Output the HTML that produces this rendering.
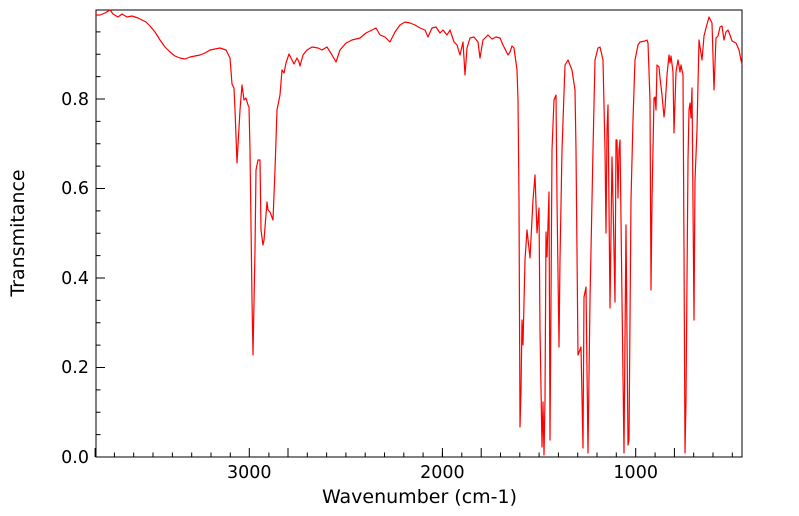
<!DOCTYPE html>
<html><head><meta charset="utf-8"><style>body{margin:0;background:#fff}svg{display:block}text{font-family:"DejaVu Sans","Liberation Sans",sans-serif;fill:#000}</style></head><body>
<svg width="799" height="516" viewBox="0 0 799 516" xmlns="http://www.w3.org/2000/svg">
<rect width="799" height="516" fill="#fff"/>
<g stroke="#000" stroke-width="1">
<path d="M95.1 457V448M288 457V448M481.2 457V448M674.4 457V448" />
<path d="M114.4 457V452.5M133.7 457V452.5M153 457V452.5M172.4 457V452.5M191.7 457V452.5M211 457V452.5M230.3 457V452.5M268.9 457V452.5M307.3 457V452.5M326.6 457V452.5M345.9 457V452.5M365.2 457V452.5M384.5 457V452.5M403.8 457V452.5M423.1 457V452.5M442.4 457V452.5M461.8 457V452.5M500.5 457V452.5M519.8 457V452.5M539.1 457V452.5M558.4 457V452.5M577.7 457V452.5M597 457V452.5M616.3 457V452.5M655.1 457V452.5M693.7 457V452.5M713 457V452.5M732.3 457V452.5"/>
<path d="M249.3 457V448M442.4 457V448M635.7 457V448"/>
<path d="M96 457H105M96 367.5H105M96 278H105M96 188.5H105M96 99H105"/>
<path d="M96 434.6H100.5M96 412.2H100.5M96 389.9H100.5M96 345.1H100.5M96 322.7H100.5M96 300.4H100.5M96 255.6H100.5M96 233.2H100.5M96 210.9H100.5M96 166.1H100.5M96 143.7H100.5M96 121.4H100.5M96 76.6H100.5M96 54.2H100.5M96 31.9H100.5"/>
</g>
<rect x="96" y="10" width="646" height="447" fill="none" stroke="#000" stroke-width="1"/>
<g font-size="17.5" text-anchor="end">
<text x="89" y="463">0.0</text><text x="89" y="373">0.2</text><text x="89" y="284">0.4</text><text x="89" y="194">0.6</text><text x="89" y="105">0.8</text>
</g>
<g font-size="17.5" text-anchor="middle">
<text x="249.3" y="478">3000</text><text x="442.4" y="478">2000</text><text x="635.7" y="478">1000</text>
<text x="419.5" y="503" font-size="19">Wavenumber (cm-1)</text>
<text transform="translate(24,233) rotate(-90)" font-size="19">Transmitance</text>
</g>
<polyline fill="none" stroke="#ff0000" stroke-width="1.2" stroke-linejoin="round" points="96,15 100,15 105,13 110,10 113,14 118,17 122,14 127,17 132,16 138,18 142,20 146,22 150,26 155,32 160,40 165,47 170,52 175,56 180,58 185,59 190,57 195,56 200,55 205,53 210,50 215,49 220,48 226,50 230,58 232,84 234,88 235,110 237,163 240,110 242,85 244,100 246,98 248,105 249,107 250,150 252,300 253,355 255,250 256,170 258,160 260,160 261,230 263,245 264,240 267,202 268,210 270,212 273,220 275,170 277,110 280,95 282,70 284,73 286,63 289,54 292,60 294,64 297,58 299,62 300,66 303,55 307,50 312,47 318,48 322,50 327,47 332,55 336,62 340,50 346,43 352,40 360,38 366,33 372,30 376,28 380,35 385,37 390,42 395,32 400,25 405,22 410,23 415,25 420,28 425,30 428,37 432,28 436,27 440,33 443,30 447,35 450,30 454,42 457,45 460,55 463,42 465,75 467,48 470,38 474,37 478,42 480,58 483,40 488,35 492,39 496,37 500,38 503,45 505,49 508,55 510,52 512,46 514,48 517,70 518,100 519,200 520,427 521,390 522,320 523,345 525,260 527,230 530,258 533,200 535,175 537,233 539,208 540,330 542,447 543,402 544,455 545,400 546,232 547,257 549,192 550,440 551,300 552,150 554,100 556,95 557,200 559,347 560,260 562,150 565,65 568,60 572,70 575,90 576,150 578,355 581,347 583,448 584,297 586,287 588,453 590,300 593,150 595,60 598,48 600,47 603,60 605,150 606,233 607,130 608,105 610,308 612,157 613,200 615,302 616,140 617,140 618,198 619,150 620,140 622,300 624,453 626,225 628,445 629,440 631,200 633,120 635,60 638,45 640,42 645,41 647,40 648,43 650,100 651,290 652,200 654,98 655,97 656,110 657,65 659,67 660,78 662,95 664,117 665,108 667,75 669,55 670,63 671,56 673,72 674,133 676,72 678,60 680,72 681,65 683,75 684,250 685,453 686,400 688,160 689,110 690,103 691,118 692,88 694,320 695,180 697,130 699,40 702,60 704,36 706,28 709,17 712,23 714,90 716,38 718,36 720,27 722,26 724,40 726,32 728,30 730,35 732,41 736,43 739,50 742,65"/>
</svg>
</body></html>
